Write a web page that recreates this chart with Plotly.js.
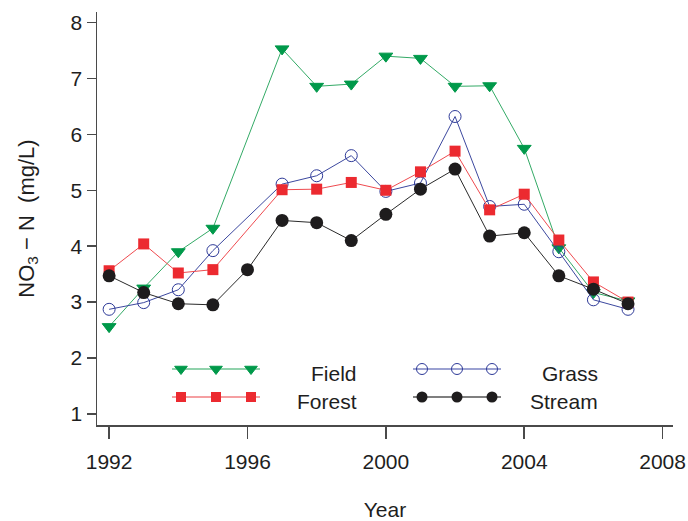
<!DOCTYPE html>
<html>
<head>
<meta charset="utf-8">
<script src="https://cdn.plot.ly/plotly-3.0.1.min.js"></script>
<style>html,body{margin:0;padding:0;background:#fff;}#chart{width:688px;height:521px;}</style>
</head>
<body>
<div id="chart"></div>
<script>
// ---- data ----
var years  = [1992,1993,1994,1995,1996,1997,1998,1999,2000,2001,2002,2003,2004,2005,2006,2007];
var field  = [2.56,3.25,3.90,4.32,null,7.53,6.86,6.90,7.40,7.36,6.86,6.87,5.75,3.97,3.17,3.02];
var forest = [3.56,4.04,3.52,3.58,null,5.01,5.02,5.14,5.00,5.33,5.70,4.65,4.93,4.11,3.36,3.00];
var grass  = [2.87,2.99,3.22,3.92,null,5.11,5.26,5.62,4.98,5.13,6.32,4.71,4.75,3.90,3.04,2.87];
var stream = [3.47,3.17,2.97,2.95,3.58,4.46,4.42,4.10,4.57,5.02,5.38,4.18,4.24,3.47,3.23,2.97];
var seriesNames = ['Field','Forest','Grass','Stream'];
var xTicks = [1992,1996,2000,2004,2008];
var yTicks = [1,2,3,4,5,6,7,8];

var FONT = 'Liberation Sans, Arial, Helvetica, sans-serif';
var styles = {
  Field:  {mc:'#00994a', lc:'#33aa66', sym:'triangle-down', size:12, lw:1},
  Forest: {mc:'#ec2a30', lc:'#ef4a4f', sym:'square', size:11, lw:0},
  Grass:  {mc:'#2e3a98', lc:'#3c489f', sym:'circle-open', size:12, lw:1},
  Stream: {mc:'#1e1c1d', lc:'#2a2a2a', sym:'circle', size:13, lw:0}
};
var values = {Field:field, Forest:forest, Grass:grass, Stream:stream};
var order = ['Field','Grass','Forest','Stream'];

var traces = order.map(function(n){
  var s = styles[n];
  return {
    x: years, y: values[n], type:'scatter', mode:'lines+markers', name:n,
    connectgaps:true, showlegend:false, cliponaxis:false,
    line:{color:s.lc, width:1},
    marker:{symbol:s.sym, size:s.size, color:s.mc, line:{color:s.mc, width:s.lw}}
  };
});

// ---- hand-drawn legend on an overlay axis in pixel units ----
var legendPos = {
  Field:  {x0:172, x1:260, ym:369, tx:359, ty:373},
  Forest: {x0:172, x1:260, ym:397, tx:359, ty:401},
  Grass:  {x0:413, x1:501, ym:369, tx:600, ty:373},
  Stream: {x0:413, x1:501, ym:397, tx:600, ty:401}
};
var annotations = [];
seriesNames.forEach(function(n){
  var p = legendPos[n], s = styles[n];
  var lcol = {Field:'#6cc391', Forest:'#f27f82', Grass:'#7a82c2', Stream:'#555555'}[n];
  traces.push({x:[p.x0,p.x1], y:[p.ym,p.ym], xaxis:'x2', yaxis:'y2', mode:'lines',
    line:{color:lcol, width:1.5}, showlegend:false, hoverinfo:'skip'});
  var mx = [p.x0+9, (p.x0+p.x1)/2, p.x1-9];
  traces.push({x:mx, y:[p.ym,p.ym,p.ym], xaxis:'x2', yaxis:'y2', mode:'markers',
    marker:{symbol:s.sym, size:(n==='Stream'?11:s.size-1), color:s.mc, line:{color:s.mc, width:s.lw}},
    showlegend:false, hoverinfo:'skip'});
  annotations.push({xref:'x2', yref:'y2', x:p.tx, y:p.ty, text:n, showarrow:false,
    xanchor:'right', yanchor:'middle', font:{family:FONT, size:21, color:'#1e1e1e'}});
});

var axisCommon = {
  showgrid:false, zeroline:false, showline:true, linecolor:'#4a4a4a', linewidth:1.5,
  ticks:'outside', tickcolor:'#4a4a4a', tickwidth:1.5,
  tickfont:{family:FONT, size:21, color:'#1e1e1e'}, automargin:false
};

var layout = {
  width:688, height:521, paper_bgcolor:'#fff', plot_bgcolor:'#fff',
  margin:{l:97, r:15, t:12, b:96},
  showlegend:false,
  font:{family:FONT, color:'#1e1e1e'},
  xaxis: Object.assign({}, axisCommon, {
    range:[1991.65, 2008.3], tickvals:xTicks, ticktext:xTicks.map(String), ticklen:12,
    ticklabelstandoff:5,
    title:{text:'Year', font:{family:FONT, size:21, color:'#1e1e1e'}, standoff:30}
  }),
  yaxis: Object.assign({}, axisCommon, {
    range:[0.8, 8.19], tickvals:yTicks, ticktext:yTicks.map(String), ticklen:9,
    title:{text:'NO<sub>3</sub> \u2212 N  (mg/L)', font:{family:FONT, size:22, color:'#1e1e1e'}, standoff:30}
  }),
  xaxis2:{overlaying:'x', anchor:'y2', range:[97,673], visible:false, fixedrange:true},
  yaxis2:{overlaying:'y', anchor:'x2', range:[425,12], visible:false, fixedrange:true},
  annotations: annotations
};

Plotly.newPlot('chart', traces, layout, {staticPlot:true});
</script>
</body>
</html>
